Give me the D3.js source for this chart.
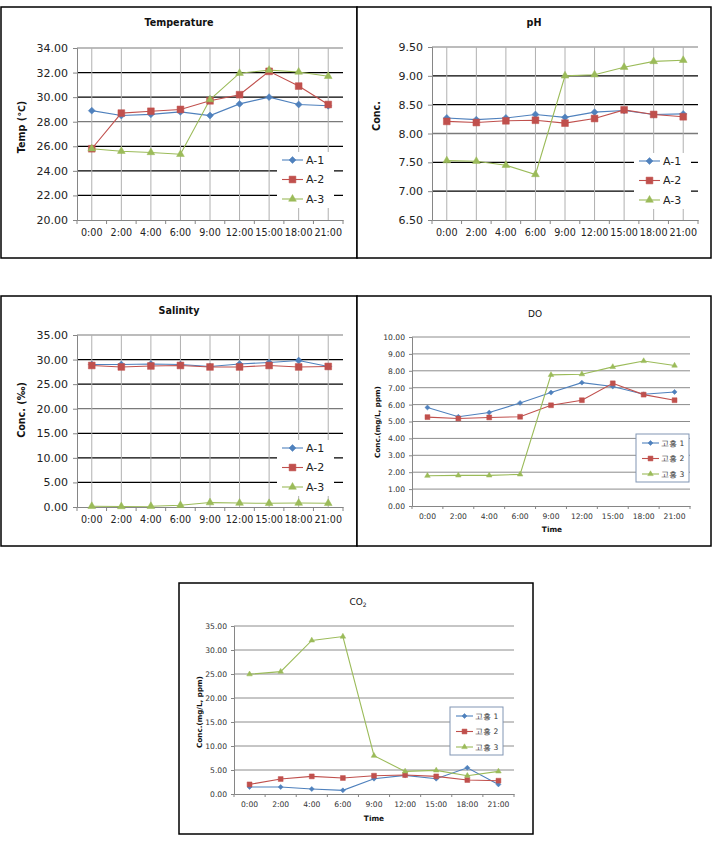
<!DOCTYPE html>
<html><head><meta charset="utf-8">
<script src="https://cdn.jsdelivr.net/npm/d3@7"></script>
<style>body{margin:0;background:#fff;} svg{display:block;font-family:"DejaVu Sans",Verdana,sans-serif;}</style>
</head><body><svg id="c" width="719" height="842"></svg>
<script>
// ---------- data ----------
const times = ["0:00","2:00","4:00","6:00","9:00","12:00","15:00","18:00","21:00"];
const seriesA = ["A-1","A-2","A-3"];
const seriesG = ["고흥 1","고흥 2","고흥 3"];

const tempA1 = [28.9,28.5,28.6,28.8,28.5,29.45,30.0,29.4,29.3];
const tempA2 = [25.8,28.7,28.85,29.0,29.7,30.2,32.1,30.9,29.4];
const tempA3 = [25.8,25.6,25.5,25.35,29.8,31.95,32.2,32.05,31.7];
const tempTicks = [20,22,24,26,28,30,32,34];

const phA1 = [8.27,8.24,8.27,8.33,8.28,8.37,8.40,8.33,8.34];
const phA2 = [8.21,8.19,8.22,8.23,8.18,8.26,8.41,8.33,8.29];
const phA3 = [7.53,7.52,7.45,7.29,9.00,9.02,9.15,9.25,9.27];
const phTicks = [6.5,7.0,7.5,8.0,8.5,9.0,9.5];

const salA1 = [29.0,29.0,29.1,29.0,28.6,29.1,29.4,29.8,28.6];
const salA2 = [28.8,28.5,28.7,28.8,28.5,28.5,28.8,28.5,28.6];
const salA3 = [0.15,0.1,0.15,0.35,0.9,0.8,0.75,0.8,0.75];
const salTicks = [0,5,10,15,20,25,30,35];

const doG1 = [5.83,5.28,5.53,6.1,6.71,7.3,7.07,6.61,6.75];
const doG2 = [5.26,5.18,5.24,5.28,5.96,6.26,7.26,6.59,6.26];
const doG3 = [1.79,1.81,1.81,1.87,7.76,7.8,8.23,8.58,8.31];
const doTicks = [0,1,2,3,4,5,6,7,8,9,10];

const co2G1 = [1.46,1.46,1.04,0.76,3.19,3.88,3.19,5.47,2.0];
const co2G2 = [2.0,3.12,3.67,3.33,3.81,3.95,3.67,2.91,2.77];
const co2G3 = [24.95,25.5,32.0,32.8,7.97,4.71,4.92,3.81,4.71];
const co2Ticks = [0,5,10,15,20,25,30,35];

// ---------- drawing ----------
const svg = d3.select("#c");
const colors = ["#4f81bd","#c0504d","#9bbb59"];
const fmt = d3.format(".2f");

function marker(sel, i, big) {
  const k = big ? 1 : 0.72;
  if (i === 0) sel.attr("d", d3.symbol(d3.symbolSquare, 24*k*k)()).attr("transform", function(){return d3.select(this).attr("transform") + " rotate(45)";});
  else if (i === 1) sel.attr("d", d3.symbol(d3.symbolSquare, 46*k*k)());
  else sel.attr("d", d3.symbol(d3.symbolTriangle, 26*k*k)());
}

function drawChart(c) {
  const g = svg.append("g");
  const big = c.style === "A";
  g.append("rect").attr("x", c.box[0]).attr("y", c.box[1]).attr("width", c.box[2]).attr("height", c.box[3])
    .attr("fill", "#fff").attr("stroke", "#000").attr("stroke-width", 1.5);

  const x = d3.scaleBand().domain(times).range([c.l, c.r]);
  const y = d3.scaleLinear().domain([c.ticks[0], c.ticks[c.ticks.length-1]]).range([c.b, c.t]);
  const tc = big ? "#222" : "#333";
  const fs = big ? 11 : 7.6;
  const xfs = big ? 9.6 : 7.6;

  // horizontal gridlines
  g.append("g").selectAll("line").data(c.ticks.slice(1)).join("line")
    .attr("x1", c.l).attr("x2", c.r).attr("y1", d => y(d)).attr("y2", d => y(d))
    .attr("stroke", d => {
      if (!big) return "#8c8c8c";
      if (d === c.ticks[c.ticks.length-1]) return "#a6a6a6";
      return (c.grayLine === d) ? "#7a7a7a" : "#000";
    })
    .attr("stroke-width", d => big ? 1.3 : 1);

  // vertical gridlines
  if (big) {
    g.append("g").selectAll("line").data(times).join("line")
      .attr("x1", d => x(d) + x.bandwidth()/2).attr("x2", d => x(d) + x.bandwidth()/2)
      .attr("y1", c.t).attr("y2", c.b).attr("stroke", "#b0b0b0").attr("stroke-width", 1);
  }

  // y axis
  const ya = d3.axisLeft(y).tickValues(c.ticks).tickFormat(fmt).tickSize(big ? 4 : 3).tickPadding(big ? 5 : 4);
  const yg = g.append("g").attr("transform", `translate(${c.l},0)`).call(ya);
  yg.select(".domain").attr("stroke", "#868686");
  yg.selectAll(".tick line").attr("stroke", "#868686");
  yg.selectAll("text").attr("fill", tc).attr("font-size", fs).attr("font-family", "DejaVu Sans, sans-serif");

  // x axis
  const xa = d3.axisBottom(x).tickSize(0).tickPadding(big ? 9 : 8);
  const xg = g.append("g").attr("transform", `translate(0,${c.b})`).call(xa);
  xg.select(".domain").attr("stroke", "#868686");
  xg.selectAll("text").attr("fill", tc).attr("font-size", xfs).attr("font-family", "DejaVu Sans, sans-serif");
  // boundary ticks
  const bounds = times.map(d => x(d)).concat([x(times[times.length-1]) + x.step()]);
  g.append("g").selectAll("line").data(bounds).join("line")
    .attr("x1", d => d).attr("x2", d => d).attr("y1", c.b).attr("y2", c.b + (big ? 4 : 3))
    .attr("stroke", "#868686");

  // title
  const t = g.append("text").attr("x", c.titleX).attr("y", c.titleY).attr("text-anchor", "middle")
    .attr("dy", "0.35em").attr("font-size", big ? 9.6 : 9).attr("font-weight", big ? "bold" : "normal").attr("fill", "#111");
  if (c.titleSub) {
    t.append("tspan").text(c.title);
    t.append("tspan").attr("font-size", 6).attr("dy", "0.3em").text(c.titleSub);
  } else t.text(c.title);

  // y title
  g.append("text").attr("transform", `translate(${c.ytX},${c.ytY}) rotate(-90)`).attr("text-anchor", "middle")
    .attr("dy", "0.35em").attr("font-size", big ? 9.6 : 7.2).attr("font-weight", "bold").attr("fill", "#111").text(c.yTitle);
  if (c.xTitle) {
    g.append("text").attr("x", c.xtX).attr("y", c.xtY).attr("text-anchor", "middle").attr("dy", "0.35em")
      .attr("font-size", 7.4).attr("font-weight", "bold").attr("fill", "#111").text(c.xTitle);
  }

  // series
  const line = d3.line().x((d,i) => x(times[i]) + x.bandwidth()/2).y(d => y(d));
  c.series.forEach((s, i) => {
    g.append("path").datum(s).attr("d", line).attr("fill", "none").attr("stroke", colors[i]).attr("stroke-width", 1.1);
  });
  c.series.forEach((s, i) => {
    g.append("g").selectAll("path").data(s).join("path")
      .attr("transform", (d,j) => `translate(${x(times[j]) + x.bandwidth()/2},${y(d)})`)
      .attr("fill", colors[i]).attr("stroke", colors[i]).attr("stroke-width", 0.5)
      .each(function(){ marker(d3.select(this), i, big); });
  });

  // legend
  const L = c.legend;
  const lg = g.append("g").attr("transform", `translate(${L.x},${L.y})`);
  lg.append("rect").attr("x", 0).attr("y", 0).attr("width", L.w).attr("height", L.h).attr("fill", "#fff")
    .attr("stroke", L.border ? "#8196b4" : "none").attr("stroke-width", 1);
  c.names.forEach((n, i) => {
    const yy = L.rows[i];
    lg.append("line").attr("x1", L.sx0).attr("x2", L.sx1).attr("y1", yy).attr("y2", yy).attr("stroke", colors[i]).attr("stroke-width", 1.1);
    lg.append("path").attr("transform", `translate(${(L.sx0+L.sx1)/2},${yy})`).attr("fill", colors[i]).attr("stroke", colors[i]).attr("stroke-width", 0.5)
      .call(sel => marker(sel, i, big));
    lg.append("text").attr("x", L.tx).attr("y", yy).attr("dy", "0.35em").attr("font-size", big ? 11 : 7.6)
      .attr("fill", tc).text(n);
  });
}

const legA = {w:57, h:56, rows:[8,27.5,47], sx0:5, sx1:26, tx:29};
const legG = {w:53, h:48, rows:[9,24.5,40], sx0:6, sx1:23, tx:25, border:true};

drawChart({style:"A", box:[1,7,356,251], l:77, r:343, t:48, b:220, ticks:tempTicks, grayLine:28,
  title:"Temperature", titleX:179, titleY:23, yTitle:"Temp (℃)", ytX:22, ytY:127,
  series:[tempA1,tempA2,tempA3], names:seriesA, legend:Object.assign({x:277, y:152}, legA)});
drawChart({style:"A", box:[357,7,354,251], l:432, r:698, t:47, b:220, ticks:phTicks, grayLine:8.0,
  title:"pH", titleX:534, titleY:23, yTitle:"Conc.", ytX:377, ytY:116,
  series:[phA1,phA2,phA3], names:seriesA, legend:Object.assign({x:634, y:153}, legA)});
drawChart({style:"A", box:[1,296,356,250], l:77, r:343, t:335, b:507, ticks:salTicks, grayLine:20,
  title:"Salinity", titleX:179, titleY:311, yTitle:"Conc. (‰)", ytX:22, ytY:410,
  series:[salA1,salA2,salA3], names:seriesA, legend:Object.assign({x:277, y:440}, legA)});
drawChart({style:"B", box:[357,296,354,250], l:412, r:690, t:337, b:506, ticks:doTicks,
  title:"DO", titleX:535, titleY:314, yTitle:"Conc.(mg/L, ppm)", ytX:377, ytY:422, xTitle:"Time", xtX:552, xtY:529,
  series:[doG1,doG2,doG3], names:seriesG, legend:Object.assign({x:636, y:434}, legG)});
drawChart({style:"B", box:[179,583,354,251], l:234, r:514, t:626, b:794, ticks:co2Ticks,
  title:"CO", titleSub:"2", titleX:358, titleY:602, yTitle:"Conc.(mg/L, ppm)", ytX:199, ytY:712, xTitle:"Time", xtX:374, xtY:818,
  series:[co2G1,co2G2,co2G3], names:seriesG, legend:Object.assign({x:450, y:707}, legG)});
</script>
</body></html>
